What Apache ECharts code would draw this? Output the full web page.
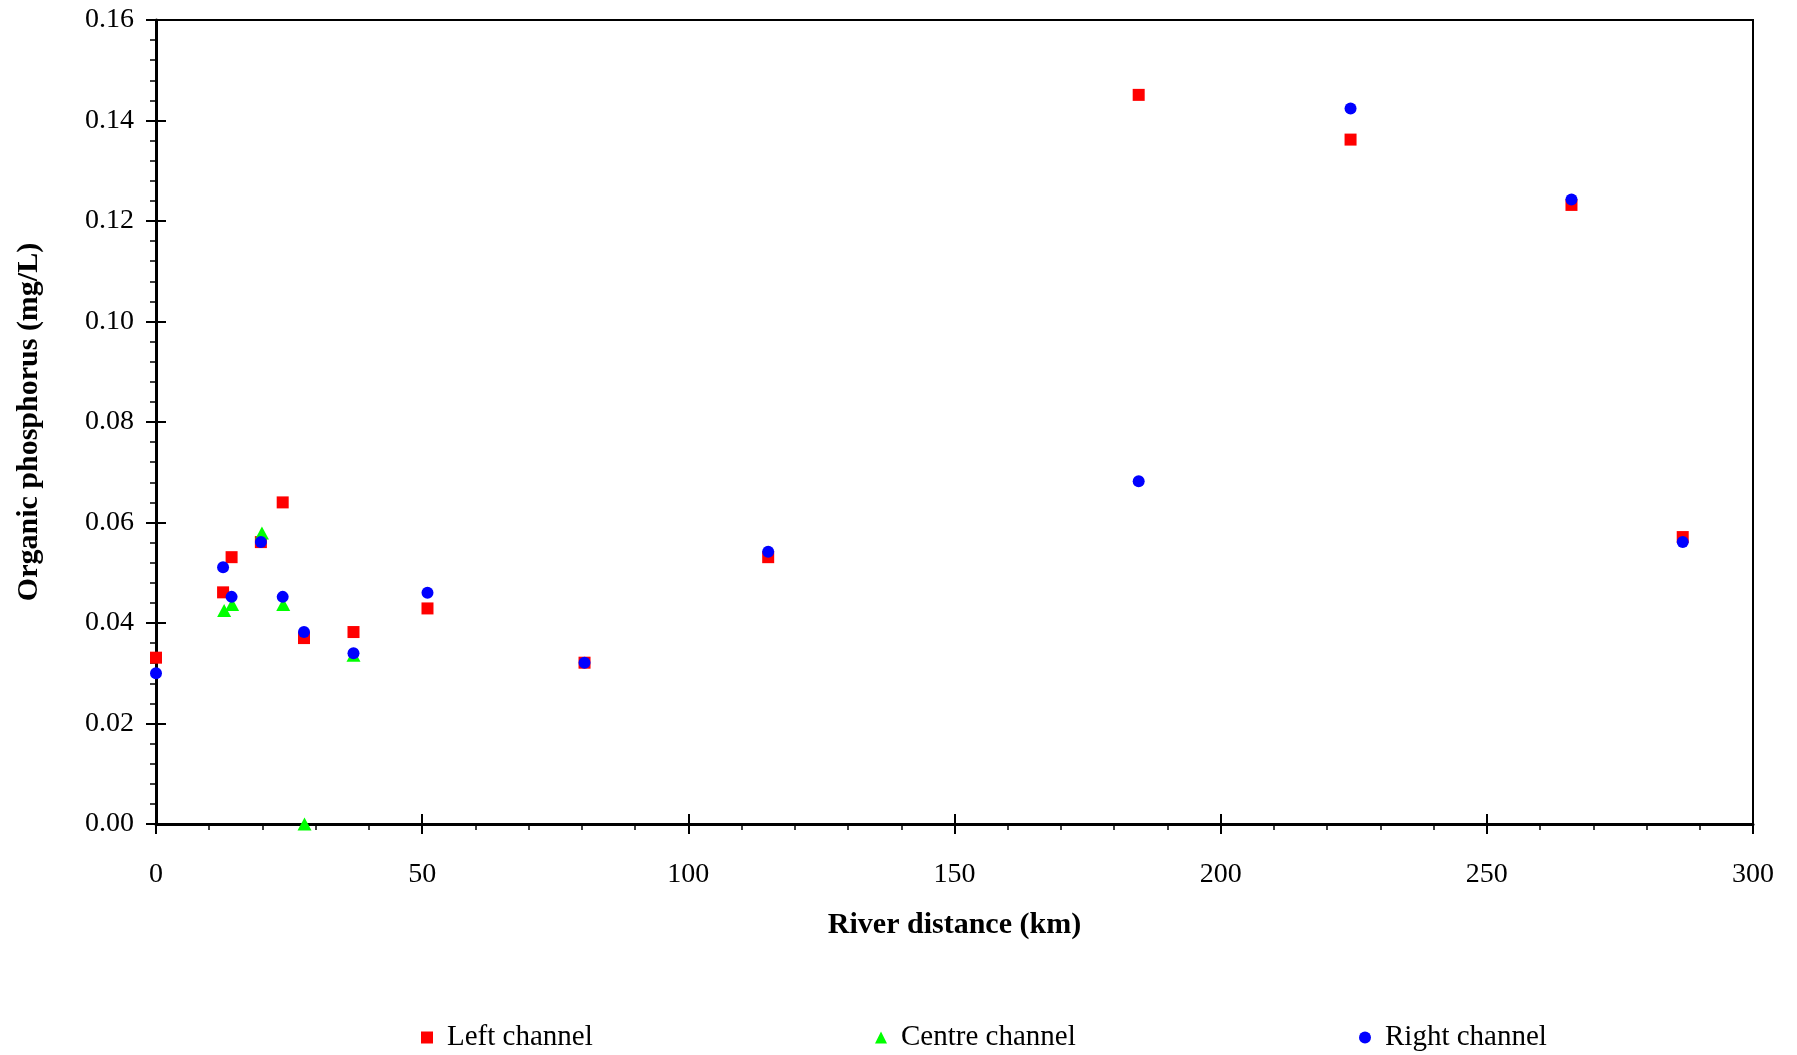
<!DOCTYPE html>
<html>
<head>
<meta charset="utf-8">
<title>Organic phosphorus along the river</title>
<script src="https://cdn.jsdelivr.net/npm/echarts@6/dist/echarts.min.js"></script>
<style>
  html, body { margin: 0; padding: 0; background: #fff; }
  #chart { width: 1797px; height: 1055px; }
</style>
</head>
<body>
<div id="chart"></div>
<script>
// Sampling stations (river distance, km) for the left and right channels
const sideDistanceKm = [0, 12.6, 14.2, 19.7, 23.8, 27.8, 37.1, 51.0, 80.5, 115.0, 184.6, 224.4, 265.9, 286.8];
// Organic phosphorus (mg/L)
const leftChannel  = [0.0331, 0.0461, 0.0531, 0.0561, 0.0640, 0.0370, 0.0382, 0.0429, 0.0321, 0.0531, 0.1451, 0.1362, 0.1232, 0.0571];
const rightChannel = [0.0300, 0.0511, 0.0452, 0.0561, 0.0452, 0.0382, 0.0340, 0.0460, 0.0321, 0.0542, 0.0682, 0.1424, 0.1243, 0.0561];
// Centre channel was only sampled in the upper reach
const centreDistanceKm = [12.8, 14.3, 19.9, 23.9, 27.9, 37.1];
const centreChannel    = [0.0425, 0.0437, 0.0579, 0.0437, 0.0000, 0.0336];

const seriesNames = ['Left channel', 'Centre channel', 'Right channel'];
const xTitle = 'River distance (km)';
const yTitle = 'Organic phosphorus (mg/L)';

const pairs = (xs, ys) => xs.map((x, i) => [x, ys[i]]);

const FONT = '"Liberation Serif", "Times New Roman", serif';
const chart = echarts.init(document.getElementById('chart'), null, { renderer: 'canvas' });

const gridBox = { left: 156, right: 44, top: 20, bottom: 231 };

const xBase = { type: 'value', min: 0, max: 300, interval: 50, splitLine: { show: false }, gridIndex: 0 };
const yBase = { type: 'value', min: 0, max: 0.16, interval: 0.02, splitLine: { show: false }, gridIndex: 0 };

const legendCommon = {
  orient: 'horizontal', padding: 0, itemWidth: 12, itemHeight: 12, top: 1023,
  textStyle: { fontFamily: FONT, fontSize: 29, color: '#000', padding: [0, 0, 0, 9] }
};

chart.setOption({
  animation: false,
  backgroundColor: '#fff',
  grid: Object.assign({ show: true, borderColor: '#000', borderWidth: 2, backgroundColor: 'transparent' }, gridBox),
  xAxis: [
    Object.assign({}, xBase, {
      position: 'bottom',
      name: xTitle, nameLocation: 'middle', nameGap: 86,
      nameTextStyle: { fontFamily: FONT, fontSize: 30, fontWeight: 'bold', color: '#000' },
      axisLine: { show: true, onZero: false, lineStyle: { color: '#000', width: 3 } },
      axisTick: { show: true, inside: false, length: 10, lineStyle: { color: '#000', width: 2 } },
      minorTick: { show: true, splitNumber: 5, length: 6, lineStyle: { color: '#000', width: 1.5 } },
      axisLabel: { margin: 37, fontFamily: FONT, fontSize: 28, color: '#000' }
    }),
    Object.assign({}, xBase, {
      position: 'bottom',
      axisLine: { show: false, onZero: false },
      axisTick: { show: true, inside: true, length: 10, lineStyle: { color: '#000', width: 2 } },
      axisLabel: { show: false }
    })
  ],
  yAxis: [
    Object.assign({}, yBase, {
      position: 'left',
      name: yTitle, nameLocation: 'middle', nameGap: 112, nameRotate: 90,
      nameTextStyle: { fontFamily: FONT, fontSize: 30, fontWeight: 'bold', color: '#000' },
      axisLine: { show: true, onZero: false, lineStyle: { color: '#000', width: 3 } },
      axisTick: { show: true, inside: false, length: 10, lineStyle: { color: '#000', width: 2 } },
      minorTick: { show: true, splitNumber: 5, length: 6, lineStyle: { color: '#000', width: 1.5 } },
      axisLabel: { margin: 22, fontFamily: FONT, fontSize: 28, color: '#000',
                   formatter: v => v.toFixed(2) }
    }),
    Object.assign({}, yBase, {
      position: 'left',
      axisLine: { show: false, onZero: false },
      axisTick: { show: true, inside: true, length: 10, lineStyle: { color: '#000', width: 2 } },
      axisLabel: { show: false }
    })
  ],
  legend: [
    Object.assign({}, legendCommon, { left: 421, data: [{ name: seriesNames[0], icon: 'rect' }] }),
    Object.assign({}, legendCommon, { left: 875, data: [{ name: seriesNames[1], icon: 'triangle' }] }),
    Object.assign({}, legendCommon, { left: 1359, data: [{ name: seriesNames[2], icon: 'circle' }] })
  ],
  series: [
    {
      name: seriesNames[0], type: 'scatter', xAxisIndex: 0, yAxisIndex: 0, clip: false,
      symbol: 'rect', symbolSize: 12,
      itemStyle: { color: '#ff0000', opacity: 1 },
      data: pairs(sideDistanceKm, leftChannel)
    },
    {
      name: seriesNames[1], type: 'scatter', xAxisIndex: 0, yAxisIndex: 0, clip: false,
      symbol: 'triangle', symbolSize: [14, 13],
      itemStyle: { color: '#00ff00', opacity: 1 },
      data: pairs(centreDistanceKm, centreChannel)
    },
    {
      name: seriesNames[2], type: 'scatter', xAxisIndex: 0, yAxisIndex: 0, clip: false,
      symbol: 'circle', symbolSize: 12,
      itemStyle: { color: '#0000ff', opacity: 1 },
      data: pairs(sideDistanceKm, rightChannel)
    }
  ]
});
</script>
</body>
</html>
